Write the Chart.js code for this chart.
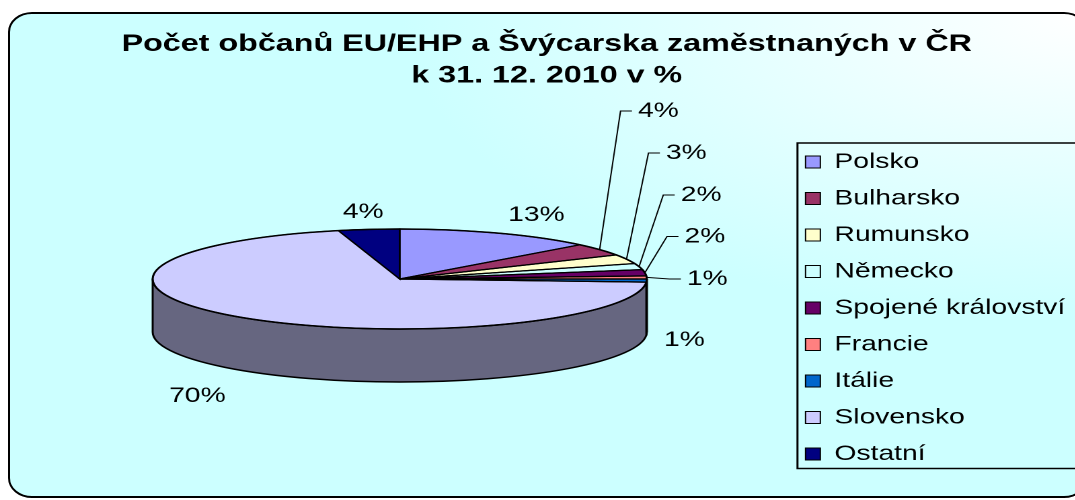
<!DOCTYPE html>
<html>
<head>
<meta charset="utf-8">
<title>Počet občanů EU/EHP a Švýcarska zaměstnaných v ČR</title>
<script src="https://cdn.jsdelivr.net/npm/chart.js@4.4.0/dist/chart.umd.min.js"></script>
<style>
  * { margin: 0; padding: 0; box-sizing: border-box; }
  html, body { width: 1075px; height: 500px; overflow: hidden; background: #fff; }
  .frame { position: absolute; left: 8px; top: 12px; width: 1080px; height: 486px; border: 2px solid #000; border-radius: 24px / 20px;
           background: radial-gradient(ellipse farthest-corner at 100% 0%, #ffffff 0%, #ccffff 45%); }
  /* the original Excel chart is stretched sideways, so draw narrow and widen */
  .wrap { position: absolute; left: 0; top: 0; width: 815px; height: 500px; transform: scaleX(1.345); transform-origin: 0 0; }
</style>
</head>
<body>
<div class="frame"></div>
<div class="wrap"><canvas id="pie"></canvas></div>

<script>
const titleLines = ['Počet občanů EU/EHP a Švýcarska zaměstnaných v ČR', 'k 31. 12. 2010 v %'];
const categories = ['Polsko', 'Bulharsko', 'Rumunsko', 'Německo', 'Spojené království', 'Francie', 'Itálie', 'Slovensko', 'Ostatní'];
const shares = [13, 4, 3, 2, 2, 1, 1, 70, 4];
const colors = ['#9999ff', '#993366', '#ffffcc', '#ccffff', '#660066', '#ff8080', '#0066cc', '#ccccff', '#000080'];

// where each % label sits, in ellipse radii from the pie centre
const labelPos = [[0.553, -1.28], [1.047, -3.36], [1.16, -2.52], [1.22, -1.68], [1.235, -0.85],
                  [1.245, 0], [1.152, 1.22], [-0.819, 2.34], [-0.148, -1.34]];
const callout = [false, true, true, true, true, true, false, false, false];

const FONT = "'Liberation Sans', Arial, sans-serif";
const pie3d = { rx: 183.7, ry: 50, depth: 53, shiftY: -6.7 };

function darken(hex, f) {
  const n = parseInt(hex.slice(1), 16);
  return `rgb(${Math.round((n >> 16 & 255) * f)},${Math.round((n >> 8 & 255) * f)},${Math.round((n & 255) * f)})`;
}

function geom(chart) {
  const arcs = chart.getDatasetMeta(0).data;
  return { arcs, cx: arcs[0].x, cy: arcs[0].y + pie3d.shiftY, R: arcs[0].outerRadius };
}

const pie3dPlugin = {
  id: 'pie3d',
  beforeDatasetsDraw(chart) {
    const ctx = chart.ctx;
    const { arcs, cx, cy, R } = geom(chart);
    const { rx, ry, depth } = pie3d;
    // side walls of the front half
    ctx.save();
    ctx.lineWidth = 1.5;
    ctx.strokeStyle = '#000';
    ctx.lineJoin = 'round';
    arcs.forEach((arc, i) => {
      const a = Math.max(arc.startAngle, 0), b = Math.min(arc.endAngle, Math.PI);
      if (b <= a) return;
      ctx.beginPath();
      ctx.ellipse(cx, cy, rx, ry, 0, a, b);
      ctx.ellipse(cx, cy + depth, rx, ry, 0, b, a, true);
      ctx.closePath();
      ctx.fillStyle = darken(colors[i], 0.5);
      ctx.fill();
      ctx.stroke();
    });
    ctx.restore();
    // flatten the library's pie into the top face
    ctx.save();
    ctx.translate(cx, cy);
    ctx.scale(rx / R, ry / R);
    ctx.translate(-arcs[0].x, -arcs[0].y);
  },
  afterDatasetsDraw(chart) {
    const ctx = chart.ctx;
    ctx.restore();
    const { arcs, cx, cy } = geom(chart);
    const { rx, ry } = pie3d;
    ctx.save();
    ctx.strokeStyle = '#000';
    ctx.lineWidth = 1.2;
    arcs.forEach(arc => {
      ctx.beginPath();
      ctx.moveTo(cx, cy);
      ctx.ellipse(cx, cy, rx, ry, 0, arc.startAngle, arc.endAngle);
      ctx.closePath();
      ctx.stroke();
    });
    ctx.beginPath();
    ctx.ellipse(cx, cy, rx, ry, 0, 0, Math.PI * 2);
    ctx.lineWidth = 1.5;
    ctx.stroke();

    const total = shares.reduce((s, v) => s + v, 0);
    ctx.font = `21px ${FONT}`;
    ctx.fillStyle = '#000';
    ctx.textBaseline = 'middle';
    ctx.textAlign = 'center';
    ctx.lineWidth = 1;
    arcs.forEach((arc, i) => {
      const text = Math.round(shares[i] / total * 100) + '%';
      const tx = cx + labelPos[i][0] * rx, ty = cy + labelPos[i][1] * ry;
      ctx.fillText(text, tx, ty);
      if (callout[i]) {
        const mid = (arc.startAngle + arc.endAngle) / 2;
        const left = tx - ctx.measureText(text).width / 2;
        ctx.beginPath();
        ctx.moveTo(cx + rx * Math.cos(mid), cy + ry * Math.sin(mid));
        ctx.lineTo(left - 13, ty);
        ctx.lineTo(left - 4.5, ty);
        ctx.stroke();
      }
    });
    ctx.restore();
  },
  afterDraw(chart) {
    const ctx = chart.ctx;
    const hb = chart.legend.legendHitBoxes;
    const first = hb[0], last = hb[hb.length - 1];
    ctx.save();
    ctx.strokeStyle = '#000';
    ctx.lineWidth = 1.5;
    ctx.strokeRect(first.left - 6, first.top - 8.5, chart.width, last.top + last.height - first.top + 12.5);
    ctx.restore();
  }
};

new Chart(document.getElementById('pie'), {
  type: 'pie',
  data: {
    labels: categories,
    datasets: [{
      data: shares,
      backgroundColor: colors,
      borderWidth: 0,
      clip: false
    }]
  },
  options: {
    responsive: true,
    maintainAspectRatio: false,
    animation: false,
    devicePixelRatio: 2,
    events: [],
    layout: { padding: { left: 11, right: 13, top: 0, bottom: 20 } },
    plugins: {
      title: {
        display: true,
        text: titleLines,
        color: '#000',
        font: { family: FONT, size: 24, weight: 'bold', lineHeight: 1.3 },
        padding: { top: 29, bottom: 0 }
      },
      legend: {
        position: 'right',
        align: 'end',
        labels: {
          color: '#000',
          font: { family: FONT, size: 21 },
          boxWidth: 11,
          boxHeight: 12,
          padding: 15.5,
          generateLabels(chart) {
            return Chart.overrides.doughnut.plugins.legend.labels.generateLabels(chart)
              .map(l => Object.assign(l, { strokeStyle: '#000', lineWidth: 1 }));
          }
        }
      },
      tooltip: { enabled: false }
    }
  },
  plugins: [pie3dPlugin]
});
</script>
</body>
</html>
